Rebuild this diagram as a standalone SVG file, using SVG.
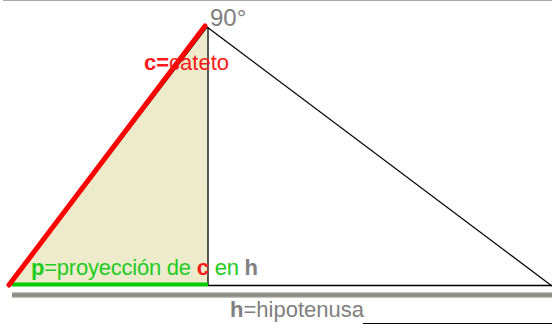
<svg xmlns="http://www.w3.org/2000/svg" width="552" height="324" viewBox="0 0 552 324">
<style>
text{font-family:"Liberation Sans",Arial,sans-serif;font-size:22px}
.b{font-weight:bold}
.gray{fill:#808080}
.red{fill:#ff1a1a}
.green{fill:#1ecc1e}
.thin{stroke:#000;stroke-width:1.3;fill:none}
</style>
<defs>
<linearGradient id="bar" x1="0" y1="0" x2="0" y2="1">
<stop offset="0" stop-color="#d8d8cc"/>
<stop offset="0.3" stop-color="#8a8a86"/>
<stop offset="0.7" stop-color="#8a8a86"/>
<stop offset="1" stop-color="#d8d8cc"/>
</linearGradient>
</defs>
<rect width="552" height="324" fill="#fff"/>
<line x1="3" y1="0.5" x2="552" y2="0.5" stroke="#aaa" stroke-width="1"/>
<g id="fill-triangle">
<polygon points="10,285 207,27 208,285" fill="#edebcb"/>
</g>
<g id="connectors">
<line class="thin" x1="208" y1="27" x2="208" y2="286"/>
<line class="thin" x1="207" y1="27" x2="552" y2="286"/>
<line class="thin" x1="10" y1="285" x2="207" y2="27"/>
<line class="thin" x1="208" y1="285.5" x2="552" y2="285.5"/>
<line x1="12" y1="284.5" x2="208" y2="284.5" stroke="#00cc00" stroke-width="4"/>
<line x1="9" y1="285" x2="205" y2="26" stroke="#ff0000" stroke-width="5" stroke-linecap="round"/>
<rect x="12" y="292" width="540" height="6" fill="url(#bar)"/>
<line x1="363" y1="323.5" x2="552" y2="323.5" stroke="#000" stroke-width="1"/>
</g>
<g id="label-90">
<text x="210" y="26" class="gray" style="font-size:24px">90°</text>
</g>
<g id="label-c">
<text x="144" y="70" class="red"><tspan class="b">c=</tspan>cateto</text>
</g>
<g id="label-p">
<text x="31" y="275" class="green" textLength="227"><tspan class="b">p</tspan>=proyección de <tspan class="b red">c</tspan> en <tspan class="b gray">h</tspan></text>
</g>
<g id="label-h">
<text x="230" y="317" class="gray"><tspan class="b">h</tspan>=hipotenusa</text>
</g>
</svg>
